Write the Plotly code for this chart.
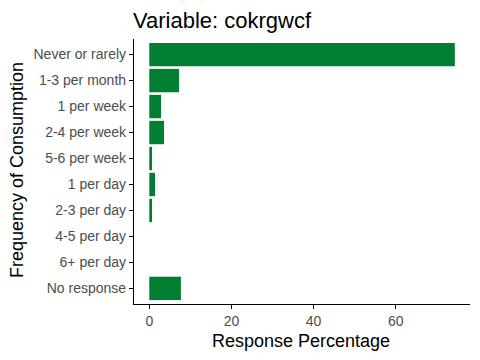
import plotly.graph_objects as go

categories = ["Never or rarely", "1-3 per month", "1 per week", "2-4 per week",
              "5-6 per week", "1 per day", "2-3 per day", "4-5 per day",
              "6+ per day", "No response"]
values = [74.4, 7.25, 2.86, 3.6, 0.66, 1.39, 0.66, 0, 0, 7.7]
x_ticks = [0, 20, 40, 60]

# page body has an 8px default margin; work in screen coords and shift
OFF = 8
W, H = 480, 360
L, R, T, B = 134 - OFF, 10 + OFF, 39 - OFF, 56 + OFF
PW, PH = W - L - R, H - T - B


def px_x(sx):
    return (sx - OFF - L) / PW


def px_y(sy):
    return 1 - (sy - OFF - T) / PH


fig = go.Figure(go.Bar(
    x=values, y=categories, orientation="h",
    marker=dict(color="#007F33", line=dict(width=0)),
    width=0.9,
))

fig.update_layout(
    width=W, height=H,
    margin=dict(l=L, r=R, t=T, b=B, autoexpand=False),
    paper_bgcolor="white", plot_bgcolor="white",
    font=dict(family="Liberation Sans, Arial, sans-serif"),
    title=dict(text="Variable: cokrgwcf", x=(133 - OFF) / W, xanchor="left",
               y=1 - (20 - OFF) / H, yanchor="middle",
               font=dict(size=22, color="black")),
    showlegend=False,
    bargap=0.1,
    annotations=[
        dict(text="Response Percentage", xref="paper", yref="paper",
             x=px_x(301), y=px_y(341),
             xanchor="center", yanchor="middle", showarrow=False,
             font=dict(size=18, color="black")),
        dict(text="Frequency of Consumption", xref="paper", yref="paper",
             x=px_x(17), y=px_y(170),
             xanchor="center", yanchor="middle", showarrow=False, textangle=-90,
             font=dict(size=18, color="black")),
    ],
)
fig.update_xaxes(
    range=[-3.72, 78.1], tickvals=x_ticks, showgrid=False, zeroline=False,
    showline=True, linecolor="black", linewidth=1.2, automargin=False,
    ticks="outside", ticklen=4, tickcolor="black", tickwidth=1,
    tickfont=dict(size=14, color="#4D4D4D"),
)
fig.update_yaxes(
    type="category", categoryorder="array", categoryarray=categories,
    range=[9.6, -0.6], showgrid=False, zeroline=False, automargin=False,
    showline=True, linecolor="black", linewidth=1.2,
    ticks="outside", ticklen=4, tickcolor="black", tickwidth=1,
    tickfont=dict(size=14, color="#4D4D4D"),
)

fig.write_html("out.html")
